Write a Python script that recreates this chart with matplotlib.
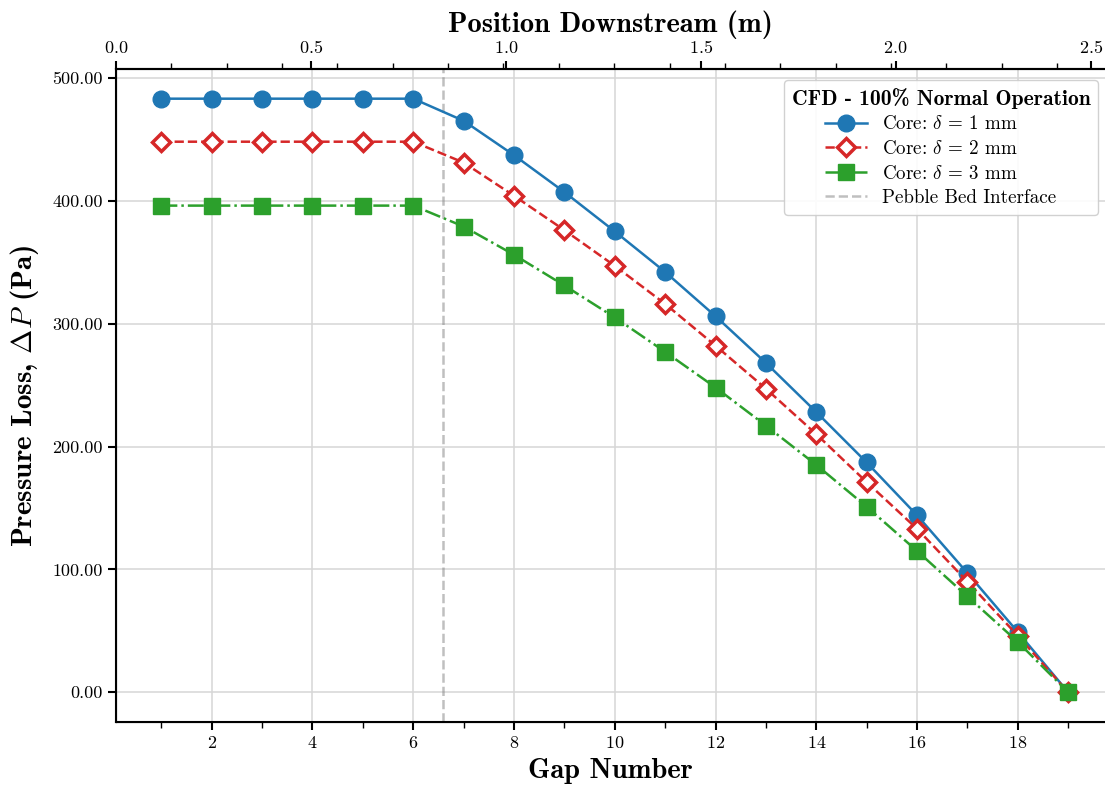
import matplotlib
matplotlib.use("Agg")
import matplotlib.pyplot as plt
from matplotlib.ticker import MultipleLocator, FormatStrFormatter

plt.rcParams['font.family'] = 'serif'
plt.rcParams['font.serif'] = ['cmr10']
plt.rcParams['mathtext.fontset'] = 'cm'
plt.rcParams['axes.formatter.use_mathtext'] = True
plt.rcParams['axes.unicode_minus'] = False

gaps = list(range(1, 20))
dp_1mm = [483, 483, 483, 483, 483, 483, 465, 437, 407, 375, 342, 306, 268, 228, 187, 144, 97, 49, 0]
dp_2mm = [448, 448, 448, 448, 448, 448, 431, 404, 376, 347, 316, 282, 247, 210, 171, 133, 90, 46, 0]
dp_3mm = [396, 396, 396, 396, 396, 396, 379, 356, 331, 305, 277, 248, 217, 185, 151, 115, 78, 41, 0]
interface_gap = 6.6

fig = plt.figure(figsize=(11.05, 7.88), dpi=100)
ax = fig.add_axes([116/1105, 66/788, (1105-116)/1105, (722-69)/788])

ax.plot(gaps, dp_1mm, '-', color='#1f77b4', lw=1.8, marker='o', ms=12,
        label=r'Core: $\delta$ = 1 mm', zorder=4)
ax.plot(gaps, dp_2mm, '--', color='#d62728', lw=1.8, marker='D', ms=9.5,
        mfc='white', mew=2.5, label=r'Core: $\delta$ = 2 mm', zorder=4)
ax.plot(gaps, dp_3mm, '-.', color='#2ca02c', lw=1.8, marker='s', ms=11,
        label=r'Core: $\delta$ = 3 mm', zorder=4)
ax.axvline(interface_gap, color='gray', alpha=0.5, ls='--', lw=1.8,
           label='Pebble Bed Interface', zorder=2)

ax.set_xlim(0.1, 19.73)
ax.set_ylim(-24.15, 507.15)
ax.xaxis.set_major_locator(MultipleLocator(2))
ax.xaxis.set_minor_locator(MultipleLocator(1))
ax.yaxis.set_major_locator(MultipleLocator(100))
ax.yaxis.set_major_formatter(FormatStrFormatter('%.2f'))
ax.grid(True, which='major', color='#d6d6d6', lw=1.1, zorder=0)
ax.set_axisbelow(True)
ax.tick_params(axis='both', which='major', labelsize=13, length=6, width=1.5)
ax.tick_params(axis='x', which='minor', length=4, width=1.0)
ax.spines['right'].set_visible(False)
for s in ['left', 'bottom', 'top']:
    ax.spines[s].set_linewidth(1.5)

ax.set_xlabel('Gap Number', fontfamily='cmb10', fontsize=20.5, labelpad=5)
ax.set_ylabel(r'Pressure Loss, $\Delta P$ (Pa)', fontfamily='cmb10', fontsize=21, labelpad=8)

ax2 = ax.twiny()
ax2.set_xlim(0, 2.537)
ax2.xaxis.set_major_locator(MultipleLocator(0.5))
ax2.xaxis.set_minor_locator(MultipleLocator(0.142))
ax2.tick_params(axis='x', which='major', labelsize=13, length=6, width=1.5)
ax2.tick_params(axis='x', which='minor', length=4, width=1.0)
ax2.spines['right'].set_visible(False)
ax2.spines['top'].set_linewidth(1.5)
ax2.set_xlabel('Position Downstream (m)', fontfamily='cmb10', fontsize=20.5, labelpad=5)

leg = ax.legend(loc='upper right', bbox_to_anchor=(1098/1105, 1 - 80/788),
                bbox_transform=fig.transFigure, borderaxespad=0, fontsize=13.7,
                title='CFD - 100% Normal Operation', framealpha=0.9,
                edgecolor='#cccccc', handlelength=2.2, labelspacing=0.35)
leg.get_title().set_fontfamily('cmb10')
leg.get_title().set_fontsize(15.5)

fig.savefig('out.png', dpi=100)
